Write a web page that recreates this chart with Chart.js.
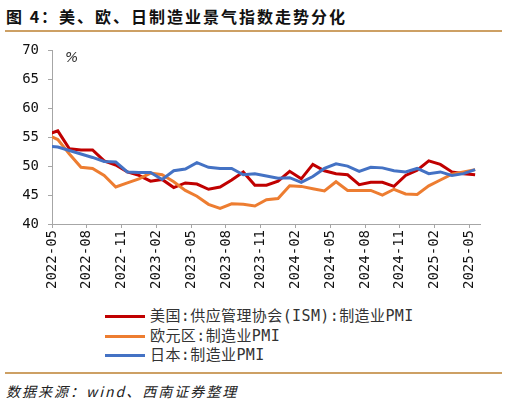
<!DOCTYPE html>
<html>
<head>
<meta charset="utf-8">
<script src="https://cdn.jsdelivr.net/npm/chart.js@4.4.1/dist/chart.umd.min.js"></script>
<style>
    body { margin: 0; width: 508px; height: 405px; background: #fff; position: relative; overflow: hidden; font-family: "Noto Sans CJK SC", sans-serif; }
    .title { position: absolute; left: 6px; top: 4px; font-size: 16px; font-weight: bold; letter-spacing: 2px; color: #111; white-space: nowrap; }
    .rule { position: absolute; left: 5px; width: 497px; height: 2px; background: #CDA064; }
    .unit { position: absolute; left: 65px; top: 49px; font: italic 14px "DejaVu Sans"; color: #333; }
    .chart-box { position: absolute; left: 0; top: 33px; width: 508px; height: 267px; }
    #legend { position: absolute; left: 105px; top: 307px; font-size: 15px; line-height: 19.5px; color: #333; font-family: "DejaVu Sans Mono", "Noto Sans CJK SC", monospace; letter-spacing: 0.4px; }
    #legend .row { display: flex; align-items: center; white-space: nowrap; }
    #legend .swatch { width: 40px; height: 3px; margin-right: 5px; }
    .source { position: absolute; left: 6px; top: 381px; font-size: 14px; font-style: italic; letter-spacing: 2px; color: #222; white-space: nowrap; }
</style>
</head>
<body>
<div class="title">图 4：美、欧、日制造业景气指数走势分化</div>
<div class="rule" style="top: 30px;"></div>
<div class="chart-box"><canvas id="pmiChart"></canvas></div>
<div class="unit">%</div>
<div id="legend"></div>
<div class="rule" style="top: 372px;"></div>
<div class="source">数据来源：wind、西南证券整理</div>

<script>
// Months (2022-04 is only there so the line enters from the left edge)
const months = [
    '2022-04', '2022-05', '2022-06', '2022-07', '2022-08', '2022-09', '2022-10', '2022-11', '2022-12',
    '2023-01', '2023-02', '2023-03', '2023-04', '2023-05', '2023-06', '2023-07', '2023-08', '2023-09',
    '2023-10', '2023-11', '2023-12', '2024-01', '2024-02', '2024-03', '2024-04', '2024-05', '2024-06',
    '2024-07', '2024-08', '2024-09', '2024-10', '2024-11', '2024-12', '2025-01', '2025-02', '2025-03',
    '2025-04', '2025-05'
];

const ismPmi = [
    55.4, 56.1, 53.0, 52.8, 52.8, 50.9, 50.2, 49.0, 48.4,
    47.4, 47.7, 46.3, 47.1, 46.9, 46.0, 46.4, 47.6, 49.0,
    46.7, 46.7, 47.4, 49.1, 47.8, 50.3, 49.2, 48.7, 48.5,
    46.8, 47.2, 47.2, 46.5, 48.4, 49.3, 50.9, 50.3, 49.0,
    48.7, 48.5
];

const euroPmi = [
    55.5, 54.6, 52.1, 49.8, 49.6, 48.4, 46.4, 47.1, 47.8,
    48.8, 48.5, 47.3, 45.8, 44.8, 43.4, 42.7, 43.5, 43.4,
    43.1, 44.2, 44.4, 46.6, 46.5, 46.1, 45.7, 47.3, 45.8,
    45.8, 45.8, 45.0, 46.0, 45.2, 45.1, 46.6, 47.6, 48.6,
    49.0, 49.4
];

const japanPmi = [
    53.5, 53.3, 52.7, 52.1, 51.5, 50.8, 50.7, 49.0, 48.9,
    48.9, 47.7, 49.2, 49.5, 50.6, 49.8, 49.6, 49.6, 48.5,
    48.7, 48.3, 47.9, 48.0, 47.2, 48.2, 49.6, 50.4, 50.0,
    49.1, 49.8, 49.7, 49.2, 49.0, 49.6, 48.7, 49.0, 48.4,
    48.7, 49.4
];

const seriesNames = ['美国:供应管理协会(ISM):制造业PMI', '欧元区:制造业PMI', '日本:制造业PMI'];
const xTickLabels = ['2022-05', '2022-08', '2022-11', '2023-02', '2023-05', '2023-08', '2023-11',
    '2024-02', '2024-05', '2024-08', '2024-11', '2025-02', '2025-05'];
const yMin = 40;
const yMax = 70;
const yStep = 5;

const colors = ['#C00000', '#ED7D31', '#4472C4'];
const axisColor = '#A6A6A6';
const tickFont = { family: 'DejaVu Sans Mono', size: 14 };

// monthly values sit in the middle of each month on a linear month axis
function toPoints(values) {
    return values.map((v, i) => ({ x: i + 0.5, y: v }));
}

const ctx = document.getElementById('pmiChart').getContext('2d');
const pmiChart = new Chart(ctx, {
    type: 'line',
    data: {
        datasets: [ismPmi, euroPmi, japanPmi].map((values, i) => ({
            label: seriesNames[i],
            data: toPoints(values),
            borderColor: colors[i],
            backgroundColor: colors[i],
            borderWidth: 3,
            pointRadius: 0,
            tension: 0,
            clip: 0,
            order: 3 - i
        }))
    },
    options: {
        responsive: true,
        maintainAspectRatio: false,
        animation: false,
        layout: {
            padding: { top: 3, right: 28, bottom: 0, left: 0 }
        },
        plugins: {
            legend: { display: false },
            tooltip: { enabled: false }
        },
        scales: {
            x: {
                type: 'linear',
                min: months.indexOf(xTickLabels[0]),
                max: months.indexOf(xTickLabels[xTickLabels.length - 1]) + 0.92,
                afterBuildTicks: scale => {
                    scale.ticks = xTickLabels.map(l => ({ value: months.indexOf(l) }));
                },
                afterFit: scale => { scale.height = 76; },
                grid: {
                    drawOnChartArea: false,
                    drawTicks: true,
                    tickLength: 4,
                    color: axisColor
                },
                border: { color: axisColor, width: 1 },
                ticks: {
                    autoSkip: false,
                    maxRotation: 90,
                    minRotation: 90,
                    padding: 2,
                    color: '#111',
                    font: tickFont,
                    callback: value => months[value]
                }
            },
            y: {
                min: yMin,
                max: yMax,
                afterFit: scale => { scale.width = 52; },
                grid: {
                    drawOnChartArea: false,
                    drawTicks: true,
                    tickLength: 4,
                    color: axisColor
                },
                border: { color: axisColor, width: 1 },
                ticks: {
                    stepSize: yStep,
                    padding: 9,
                    color: '#111',
                    font: tickFont
                }
            }
        }
    }
});

// Legend, one series per row
const legendEl = document.getElementById('legend');
pmiChart.data.datasets.forEach(ds => {
    const row = document.createElement('div');
    row.className = 'row';
    row.innerHTML = '<span class="swatch" style="background:' + ds.borderColor + '"></span><span>' + ds.label + '</span>';
    legendEl.appendChild(row);
});
</script>
</body>
</html>
